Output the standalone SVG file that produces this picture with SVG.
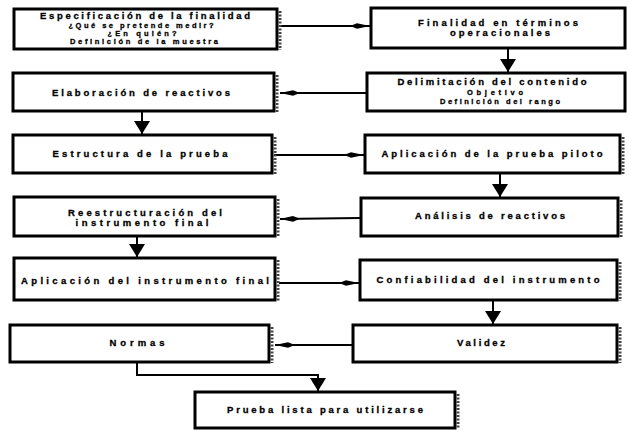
<svg xmlns="http://www.w3.org/2000/svg" width="629" height="431" viewBox="0 0 629 431">
<style>
.box{fill:#fff;stroke:#000;stroke-width:3}
.edge{stroke:#444;stroke-width:3;stroke-dasharray:2 1.5;fill:none}
.t{font-family:"Liberation Sans",Arial,sans-serif;font-weight:bold;font-size:9.5px;fill:#000;stroke:#000;stroke-width:0.3;text-anchor:middle}
.s{font-size:7.5px}
.c{fill:none;stroke:#000;stroke-width:2}
</style>
<defs>
<marker id="h" markerUnits="userSpaceOnUse" markerWidth="22" markerHeight="8" refX="20" refY="4" orient="auto">
<path d="M0,4 L7,1.2 L20,4 L7,6.8 Z" fill="#000"/>
</marker>
<marker id="d" markerUnits="userSpaceOnUse" markerWidth="16" markerHeight="16" refX="13" refY="8" orient="auto">
<path d="M0,0 L13,8 L0,16 Z" fill="#000"/>
</marker>
</defs>
<g id="connectors">
<line class="c" x1="279" y1="26" x2="370" y2="26" marker-end="url(#h)"/>
<line class="c" x1="508" y1="49" x2="508" y2="72" stroke-width="3" marker-end="url(#d)"/>
<line class="c" x1="366" y1="93" x2="280" y2="93" marker-end="url(#h)"/>
<line class="c" x1="142" y1="112" x2="142" y2="134" stroke-width="3" marker-end="url(#d)"/>
<line class="c" x1="274" y1="155" x2="364" y2="155" marker-end="url(#h)"/>
<line class="c" x1="500" y1="174" x2="500" y2="197" stroke-width="3" marker-end="url(#d)"/>
<line class="c" x1="360" y1="218" x2="280" y2="219" marker-end="url(#h)"/>
<line class="c" x1="137" y1="237" x2="137" y2="257" stroke-width="3" marker-end="url(#d)"/>
<line class="c" x1="279" y1="283" x2="359" y2="283" marker-end="url(#h)"/>
<line class="c" x1="493" y1="301" x2="493" y2="324" stroke-width="3" marker-end="url(#d)"/>
<line class="c" x1="352" y1="345" x2="275" y2="345" marker-end="url(#h)"/>
<polyline class="c" points="137,363 137,375 318,375 318,391" marker-end="url(#d)"/>
</g>
<g id="n1">
<rect class="box" x="14" y="9" width="263" height="40"/>
<line class="edge" x1="280" y1="11" x2="280" y2="50"/>
<text class="t" x="145" y="19" textLength="210" lengthAdjust="spacing">Especificación de la finalidad</text>
<text class="t s" x="141" y="28" textLength="145" lengthAdjust="spacing">¿Qué se pretende medir?</text>
<text class="t s" x="142" y="36" textLength="69" lengthAdjust="spacing">¿En quién?</text>
<text class="t s" x="144" y="44" textLength="148" lengthAdjust="spacing">Definición de la muestra</text>
</g>
<g id="n2">
<rect class="box" x="371" y="8" width="254" height="40"/>
<text class="t" x="498" y="26" textLength="160" lengthAdjust="spacing">Finalidad en términos</text>
<text class="t" x="500" y="36" textLength="100" lengthAdjust="spacing">operacionales</text>
</g>
<g id="n3">
<rect class="box" x="367" y="73" width="258" height="38"/>
<text class="t" x="492" y="85" textLength="189" lengthAdjust="spacing">Delimitación del contenido</text>
<text class="t s" x="495" y="95" textLength="56" lengthAdjust="spacing">Objetivo</text>
<text class="t s" x="500" y="104" textLength="120" lengthAdjust="spacing">Definición del rango</text>
</g>
<g id="n4">
<rect class="box" x="13" y="73" width="261" height="38"/>
<line class="edge" x1="277" y1="75" x2="277" y2="112"/>
<text class="t" x="141" y="96" textLength="178" lengthAdjust="spacing">Elaboración de reactivos</text>
</g>
<g id="n5">
<rect class="box" x="13" y="135" width="259" height="38"/>
<line class="edge" x1="275" y1="137" x2="275" y2="174"/>
<text class="t" x="140" y="157" textLength="175" lengthAdjust="spacing">Estructura de la prueba</text>
</g>
<g id="n6">
<rect class="box" x="365" y="135" width="255" height="38"/>
<line class="edge" x1="623" y1="137" x2="623" y2="174"/>
<text class="t" x="492" y="157" textLength="221" lengthAdjust="spacing">Aplicación de la prueba piloto</text>
</g>
<g id="n7">
<rect class="box" x="361" y="198" width="257" height="38"/>
<line class="edge" x1="621" y1="200" x2="621" y2="237"/>
<text class="t" x="490" y="219" textLength="150" lengthAdjust="spacing">Análisis de reactivos</text>
</g>
<g id="n8">
<rect class="box" x="14" y="197" width="261" height="39"/>
<line class="edge" x1="278" y1="199" x2="278" y2="237"/>
<text class="t" x="145" y="216" textLength="154" lengthAdjust="spacing">Reestructuración del</text>
<text class="t" x="142" y="226" textLength="133" lengthAdjust="spacing">instrumento final</text>
</g>
<g id="n9">
<rect class="box" x="14" y="258" width="261" height="42"/>
<line class="edge" x1="278" y1="260" x2="278" y2="301"/>
<text class="t" x="145" y="284" textLength="248" lengthAdjust="spacing">Aplicación del instrumento final</text>
</g>
<g id="n10">
<rect class="box" x="360" y="260" width="257" height="40"/>
<line class="edge" x1="620" y1="262" x2="620" y2="301"/>
<text class="t" x="488" y="283" textLength="223" lengthAdjust="spacing">Confiabilidad del instrumento</text>
</g>
<g id="n11">
<rect class="box" x="10" y="325" width="259" height="37"/>
<line class="edge" x1="272" y1="327" x2="272" y2="363"/>
<text class="t" x="137" y="346" textLength="55" lengthAdjust="spacing">Normas</text>
</g>
<g id="n12">
<rect class="box" x="353" y="325" width="264" height="37"/>
<line class="edge" x1="620" y1="327" x2="620" y2="363"/>
<text class="t" x="481" y="346" textLength="48" lengthAdjust="spacing">Validez</text>
</g>
<g id="n13">
<rect class="box" x="195" y="392" width="260" height="36"/>
<line class="edge" x1="458" y1="394" x2="458" y2="429"/>
<text class="t" x="325" y="413" textLength="196" lengthAdjust="spacing">Prueba lista para utilizarse</text>
</g>
</svg>
